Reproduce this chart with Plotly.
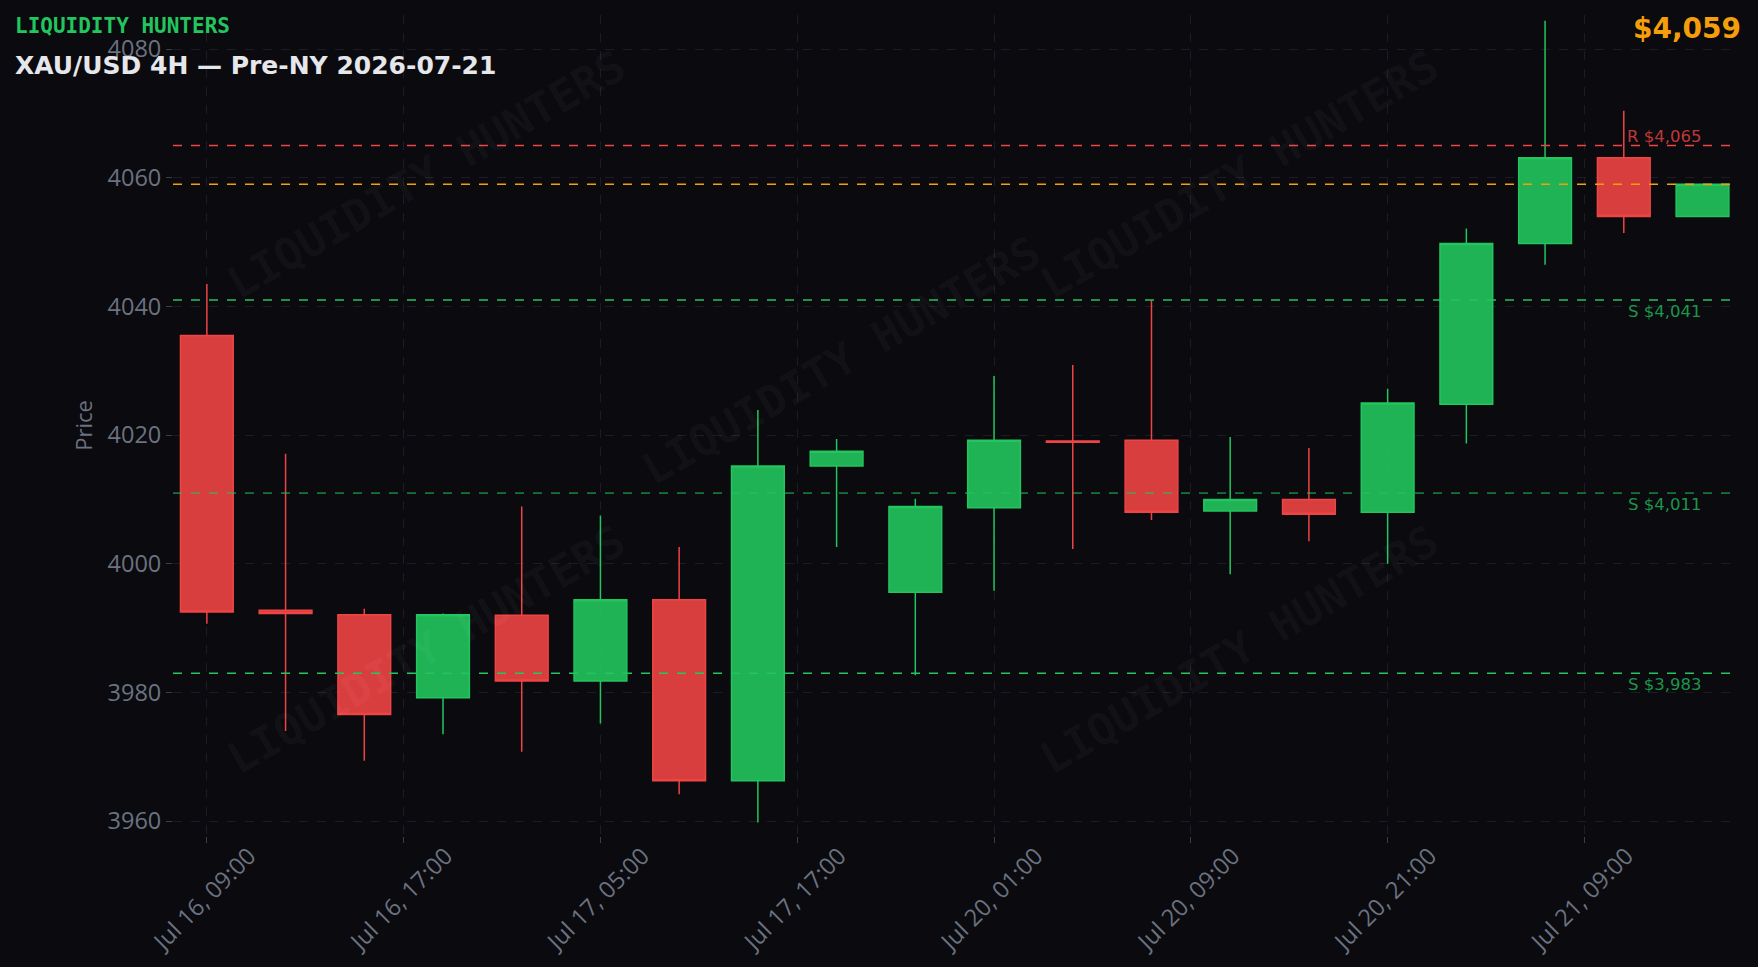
import plotly.graph_objects as go

# ---- data ----
candle_idx = list(range(20))
opens  = [4035.5, 3992.8, 3992.1, 3979.2, 3992.0, 3981.8, 3994.4, 3966.3, 4015.2, 3995.6,
          4008.7, 4019.1, 4019.2, 4008.2, 4010.0, 4008.0, 4024.8, 4049.8, 4063.1, 4054.0]
highs  = [4043.5, 4017.1, 3993.0, 3992.3, 4008.9, 4007.5, 4002.6, 4023.9, 4019.4, 4010.1,
          4029.2, 4030.9, 4041.0, 4019.7, 4018.0, 4027.2, 4052.1, 4084.4, 4070.4, 4059.0]
lows   = [3990.7, 3974.0, 3969.4, 3973.5, 3970.8, 3975.2, 3964.2, 3959.8, 4002.6, 3982.7,
          3995.8, 4002.3, 4006.8, 3998.4, 4003.5, 4000.0, 4018.7, 4046.5, 4051.4, 4054.0]
closes = [3992.5, 3992.3, 3976.6, 3992.1, 3981.8, 3994.4, 3966.3, 4015.2, 4017.5, 4008.9,
          4019.2, 4018.9, 4008.0, 4010.0, 4007.7, 4025.0, 4049.8, 4063.1, 4054.0, 4059.0]

tick_pos = [0, 2.5, 5, 7.5, 10, 12.5, 15, 17.5]
tick_labels = ["Jul 16, 09:00", "Jul 16, 17:00", "Jul 17, 05:00", "Jul 17, 17:00",
               "Jul 20, 01:00", "Jul 20, 09:00", "Jul 20, 21:00", "Jul 21, 09:00"]

resistance_levels = [4065]
support_levels = [4041, 4011, 3983]
support_widths = [1.5, 1.0, 1.5]
last_price = 4059

brand = "LIQUIDITY HUNTERS"
title_text = "XAU/USD 4H — Pre-NY 2026-07-21"

# ---- style ----
BG = "#0a0a0f"
GREEN = "#22c55e"
RED = "#ef4444"
ORANGE = "#f59e0b"
GRID = "#1c1c26"
TICK = "#6b7280"

fig = go.Figure()
fig.add_trace(go.Candlestick(
    x=candle_idx, open=opens, high=highs, low=lows, close=closes,
    increasing=dict(line=dict(color=GREEN, width=1.5), fillcolor="rgba(34,197,94,0.9)"),
    decreasing=dict(line=dict(color=RED, width=1.5), fillcolor="rgba(239,68,68,0.9)"),
    showlegend=False, hoverinfo="skip"))

shapes = []
annotations = []

# watermarks
wm_pos = [(0.162, 0.806), (0.428, 0.579), (0.683, 0.806), (0.162, 0.227), (0.683, 0.227)]
for (wx, wy) in wm_pos:
    annotations.append(dict(xref="paper", yref="paper", x=wx, y=wy, xanchor="center", yanchor="middle",
                            text=f"<b>{brand}</b>", showarrow=False, textangle=-30,
                            font=dict(family="DejaVu Sans Mono", size=44, color="rgba(255,255,255,0.04)")))

for lv in resistance_levels:
    shapes.append(dict(type="line", xref="paper", yref="y", x0=0, x1=1, y0=lv, y1=lv,
                       line=dict(color=RED, width=1.5, dash="dash")))
    annotations.append(dict(xref="paper", yref="y", x=0.98, y=lv, xanchor="right", yanchor="bottom",
                            text=f"R ${lv:,}", showarrow=False, yshift=-2,
                            font=dict(family="DejaVu Sans", size=16.5, color="rgba(239,68,68,0.8)")))
for lv, w in zip(support_levels, support_widths):
    shapes.append(dict(type="line", xref="paper", yref="y", x0=0, x1=1, y0=lv, y1=lv,
                       line=dict(color=GREEN, width=w, dash="dash")))
    annotations.append(dict(xref="paper", yref="y", x=0.98, y=lv, xanchor="right", yanchor="top",
                            text=f"S ${lv:,}", showarrow=False,
                            font=dict(family="DejaVu Sans", size=16.5, color="rgba(34,197,94,0.75)")))

shapes.append(dict(type="line", xref="paper", yref="y", x0=0, x1=1, y0=last_price, y1=last_price,
                   line=dict(color=ORANGE, width=1.5, dash="dash")))

annotations.append(dict(xref="paper", yref="paper", x=-0.1025, y=0.986, xanchor="left", yanchor="middle",
                        text=f"<b>{brand}</b>", showarrow=False,
                        font=dict(family="DejaVu Sans Mono", size=21, color=GREEN)))
annotations.append(dict(xref="paper", yref="paper", x=1.0055, y=0.983, xanchor="right", yanchor="middle",
                        text=f"<b>${last_price:,}</b>", showarrow=False,
                        font=dict(family="DejaVu Sans", size=28, color=ORANGE)))

fig.update_layout(
    width=1758, height=967,
    paper_bgcolor=BG, plot_bgcolor=BG,
    margin=dict(l=173, r=24, t=15, b=131),
    boxgap=0.33, boxgroupgap=0,
    title=dict(text=f"<b>{title_text}</b>", xref="container", yref="container",
               x=0.0085, y=0.933, xanchor="left", yanchor="middle",
               font=dict(family="DejaVu Sans", size=25, color="#e5e7eb")),
    shapes=shapes, annotations=annotations,
    xaxis=dict(range=[-0.43, 19.4], tickvals=tick_pos, ticktext=tick_labels, tickangle=-45,
               showgrid=True, gridcolor=GRID, griddash="dash", zeroline=False, showline=False,
               ticks="outside", ticklen=6, tickcolor="#3a3f4a", ticklabelshift=42,
               ticklabelstandoff=-10,
               tickfont=dict(family="Open Sans", size=23.5, color=TICK),
               automargin=False, rangeslider=dict(visible=False)),
    yaxis=dict(range=[3957.7, 4085.3], dtick=20, showgrid=True, gridcolor=GRID, griddash="dash",
               zeroline=False, showline=False, ticks="outside", ticklen=6, tickcolor="#3a3f4a",
               tickfont=dict(family="Open Sans", size=23.5, color=TICK), automargin=False,
               title=dict(text="Price", standoff=8,
                          font=dict(family="Open Sans", size=22, color=TICK))),
)

fig.write_html("out.html")
